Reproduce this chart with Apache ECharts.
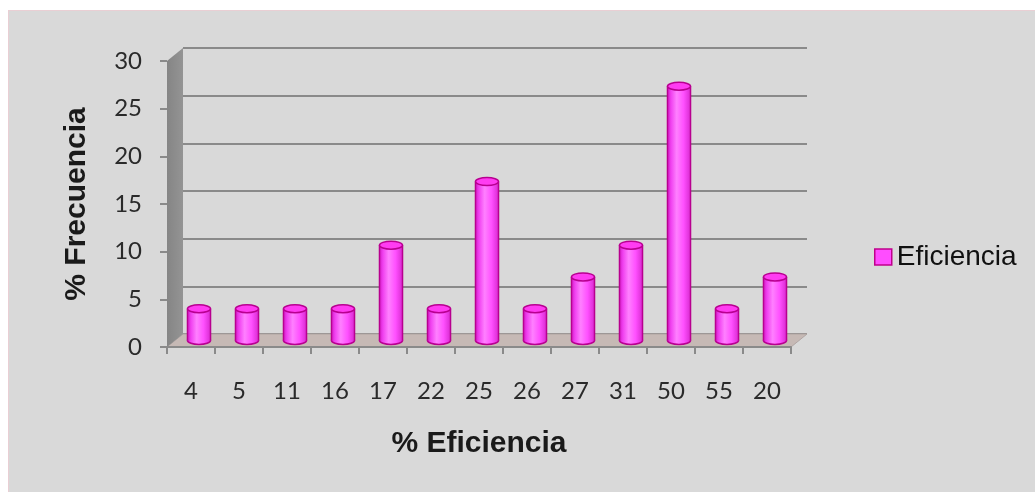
<!DOCTYPE html>
<html>
<head>
<meta charset="utf-8">
<script src="https://cdn.jsdelivr.net/npm/echarts@6/dist/echarts.min.js"></script>
<style>
  html, body { margin: 0; padding: 0; background: #ffffff; }
  #panel { position: absolute; left: 8px; top: 10px; width: 1027px; height: 482px;
           background: #d9d9d9; border-left: 1px solid #e9cfd4; border-top: 1px solid #e9cfd4; box-sizing: border-box; }
  #chart { position: absolute; left: 0; top: 0; width: 1035px; height: 492px; }
</style>
</head>
<body>
<div id="panel"></div>
<div id="chart"></div>
<script>
// ---- data ----
const categories = ['4', '5', '11', '16', '17', '22', '25', '26', '27', '31', '50', '55', '20'];
const eficiencia = [3.33, 3.33, 3.33, 3.33, 10, 3.33, 16.67, 3.33, 6.67, 10, 26.67, 3.33, 6.67];
const yTicks = [0, 5, 10, 15, 20, 25, 30];
const seriesName = 'Eficiencia';
const xTitle = '% Eficiencia';
const yTitle = '% Frecuencia';

// ---- 3D look constants (depth offset) ----
const DX = 16, DY = -13;
const yMin = yTicks[0], yMax = yTicks[yTicks.length - 1];

const chart = echarts.init(document.getElementById('chart'));

function renderWalls(params, api) {
  const bw = api.size([1, 0])[0];
  const c0 = api.coord([0, yMin]);
  const left = c0[0] - bw / 2;
  const right = left + categories.length * bw;
  const bottom = c0[1];
  const top = api.coord([0, yMax])[1];
  return {
    type: 'group',
    children: [
      { type: 'polygon', shape: { points: [[left, bottom], [right, bottom], [right + DX, bottom + DY], [left + DX, bottom + DY]] },
        style: { fill: '#c6b9b5', stroke: '#b0a5a2', lineWidth: 1 } },
      { type: 'polygon', shape: { points: [[left, top], [left + DX, top + DY], [left + DX, bottom + DY], [left, bottom]] },
        style: { fill: new echarts.graphic.LinearGradient(0, 0, 1, 0, [
          { offset: 0, color: '#858585' }, { offset: 1, color: '#949494' }]) } }
    ]
  };
}

function renderCylinder(params, api) {
  const i = api.value(0), v = api.value(1);
  const bw = api.size([1, 0])[0];
  const base = api.coord([i, yMin]);
  const topP = api.coord([i, v]);
  const cx = base[0] + DX / 2;
  const by = base[1] + DY / 2;
  const ty = topP[1] + DY / 2;
  const w = bw * 0.48;
  const rx = w / 2, ry = 4;
  const grad = new echarts.graphic.LinearGradient(0, 0, 1, 0, [
    { offset: 0, color: '#d21cc6' },
    { offset: 0.15, color: '#f040f0' },
    { offset: 0.4, color: '#ff80ff' },
    { offset: 0.7, color: '#ff50ff' },
    { offset: 1, color: '#d82ad0' }
  ]);
  return {
    type: 'group',
    children: [
      { type: 'ellipse', shape: { cx: cx, cy: by, rx: rx, ry: ry }, style: { fill: grad, stroke: '#b80090', lineWidth: 1.5 } },
      { type: 'rect', shape: { x: cx - rx, y: ty, width: w, height: by - ty }, style: { fill: grad } },
      { type: 'line', shape: { x1: cx - rx, y1: ty, x2: cx - rx, y2: by }, style: { stroke: '#b80090', lineWidth: 1.5 } },
      { type: 'line', shape: { x1: cx + rx, y1: ty, x2: cx + rx, y2: by }, style: { stroke: '#b80090', lineWidth: 1.5 } },
      { type: 'ellipse', shape: { cx: cx, cy: ty, rx: rx, ry: ry }, style: { fill: '#ff3cf2', stroke: '#b80090', lineWidth: 1.5 } }
    ]
  };
}

const axisGray = '#8a8a8a';
const option = {
  animation: false,
  backgroundColor: 'transparent',
  grid: [
    { left: 167, top: 61, width: 624, height: 286 },
    { left: 167 + DX, top: 61 + DY, width: 624, height: 286 }
  ],
  legend: {
    data: [{ name: seriesName, icon: 'rect' }],
    left: 869, top: 238,
    itemWidth: 17, itemHeight: 16,
    itemStyle: { color: '#ff4dff', borderColor: '#c0008c', borderWidth: 1.5 },
    textStyle: { fontFamily: 'Liberation Sans', fontSize: 28, color: '#111111' }
  },
  xAxis: [
    { type: 'category', gridIndex: 0, data: categories, z: 5,
      axisLine: { show: true, lineStyle: { color: axisGray, width: 2 } },
      axisTick: { show: true, length: 7, lineStyle: { color: axisGray, width: 2 } },
      axisLabel: { fontFamily: 'Lato', fontSize: 24, color: '#2a2a2a', margin: 32, lineHeight: 24 },
      splitLine: { show: false },
      name: xTitle, nameLocation: 'middle', nameGap: 82,
      nameTextStyle: { fontFamily: 'Liberation Sans', fontWeight: 'bold', fontSize: 30, color: '#1a1a1a', lineHeight: 30 } },
    { type: 'category', gridIndex: 1, data: categories, show: false }
  ],
  yAxis: [
    { type: 'value', gridIndex: 0, min: yMin, max: yMax, interval: 5, z: 5,
      axisLine: { show: false },
      axisTick: { show: true, length: 7, lineStyle: { color: axisGray, width: 2 } },
      axisLabel: { fontFamily: 'Lato', fontSize: 24, color: '#2a2a2a', margin: 25 },
      splitLine: { show: false },
      name: yTitle, nameLocation: 'middle', nameRotate: 90, nameGap: 75,
      nameTextStyle: { fontFamily: 'Liberation Sans', fontWeight: 'bold', fontSize: 30, color: '#1a1a1a', lineHeight: 30 } },
    { type: 'value', gridIndex: 1, min: yMin, max: yMax, interval: 5,
      axisLine: { show: false }, axisTick: { show: false }, axisLabel: { show: false },
      splitLine: { show: true, lineStyle: { color: axisGray, width: 2 } } }
  ],
  series: [
    { type: 'custom', name: 'walls', xAxisIndex: 0, yAxisIndex: 0, z: 1, silent: true,
      renderItem: renderWalls, data: [[0, yMin]] },
    { type: 'custom', name: seriesName, xAxisIndex: 0, yAxisIndex: 0, z: 3,
      itemStyle: { color: '#ff4dff', borderColor: '#c0008c' },
      renderItem: renderCylinder,
      encode: { x: 0, y: 1 },
      data: eficiencia.map((v, i) => [i, v]) }
  ]
};
chart.setOption(option);
</script>
</body>
</html>
